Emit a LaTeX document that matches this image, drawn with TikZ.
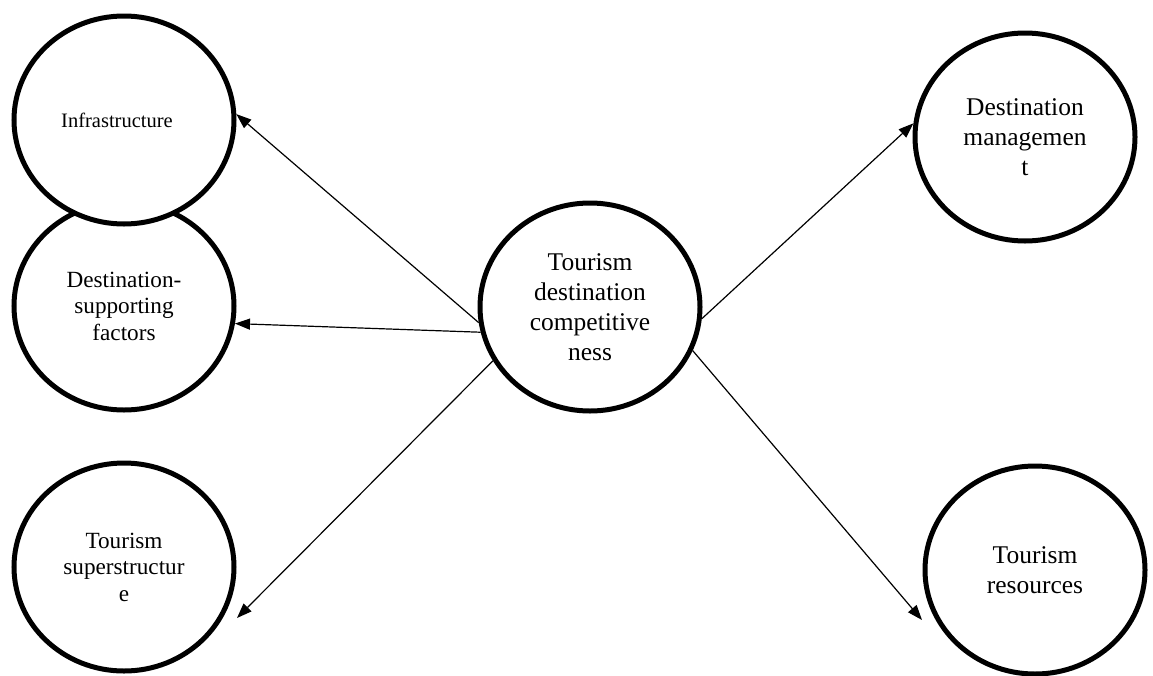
\documentclass[tikz,border=0pt]{standalone}
\usepackage{fontspec}
\setmainfont{Liberation Serif}
\usetikzlibrary{arrows.meta,shapes.geometric}
\begin{document}
\begin{tikzpicture}[x=1pt,y=-1pt,
  bubble/.style={ellipse, draw, line width=5pt, fill=white, minimum width=220pt, minimum height=208pt, inner sep=0pt, align=center},
  big/.style={font=\fontsize{25.5}{30}\selectfont},
  mid/.style={font=\fontsize{23.2}{26.5}\selectfont},
  small/.style={font=\fontsize{20.5}{24}\selectfont},
  link/.style={line width=1.2pt, -{Triangle[length=15pt,width=11pt]}}]
\useasboundingbox (0,0) rectangle (1153,675);
\node[bubble,mid] (support) at (124,306) {Destination-\\supporting\\factors};
\node[bubble,small] (infra) at (124,120) {Infrastructure\hspace*{14pt}};
\node[bubble,mid] (super) at (124,567) {Tourism\\superstructur\\e};
\node[bubble,big] (center) at (590,307) {Tourism\\destination\\competitive\\ness};
\node[bubble,big] (mgmt) at (1025,137) {Destination\\managemen\\t};
\node[bubble,big] (res) at (1035,570) {Tourism\\resources};
\coordinate (superTip) at (237,618);
\coordinate (resTip) at (922,620);
\draw[link] (center.188) -- (infra.3);
\draw[link] (center.193) -- (support.-9);
\draw[link] (center.209) -- (superTip);
\draw[link] (center.354) -- (mgmt.173);
\draw[link] (center.337) -- (resTip);
\end{tikzpicture}
\end{document}
